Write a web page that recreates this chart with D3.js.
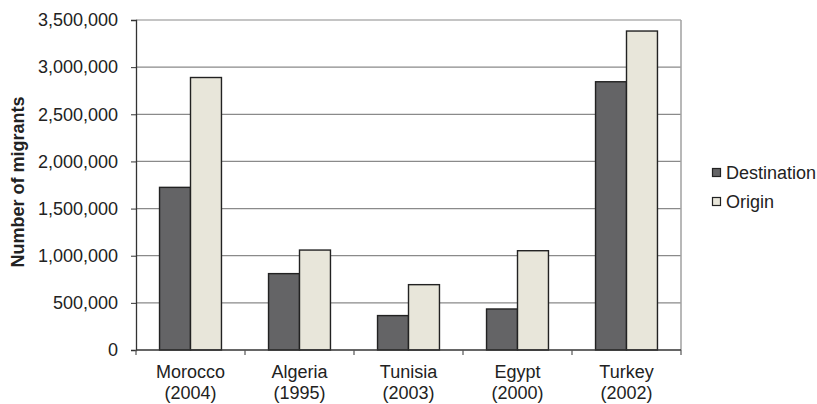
<!DOCTYPE html>
<html>
<head>
<meta charset="utf-8">
<script src="https://cdn.jsdelivr.net/npm/d3@7"></script>
<style>
  html, body { margin: 0; padding: 0; background: #fff; }
  svg { display: block; font-family: "Liberation Sans", Arial, sans-serif; }
</style>
</head>
<body>
<svg id="chart" width="817" height="404"></svg>
<script>
// Migrant stocks by country (survey year), as destination and as origin
const countries = ["Morocco", "Algeria", "Tunisia", "Egypt", "Turkey"];
const years = ["(2004)", "(1995)", "(2003)", "(2000)", "(2002)"];
const destination = [1725000, 810000, 365000, 435000, 2845000];
const origin = [2890000, 1060000, 693000, 1053000, 3383000];
const seriesNames = ["Destination", "Origin"];
const yTicks = [0, 500000, 1000000, 1500000, 2000000, 2500000, 3000000, 3500000];

const colors = { Destination: "#646466", Origin: "#e8e6da" };
const FONT = 18;

const svg = d3.select("#chart");
const margin = { left: 136, right: 136, top: 20, bottom: 54 };
const W = 817, H = 404;
const x0 = margin.left, x1 = W - margin.right;
const yTop = margin.top, yBottom = H - margin.bottom;

const x = d3.scaleBand().domain(countries).range([x0, x1]).paddingInner(0).paddingOuter(0);
const xs = d3.scaleBand().domain(seriesNames).range([0, x.bandwidth()]).paddingOuter(0.76).paddingInner(0);
const y = d3.scaleLinear().domain([0, 3500000]).range([yBottom, yTop]);

const data = countries.map((c, i) => ({ country: c, year: years[i], Destination: destination[i], Origin: origin[i] }));

// gridlines
svg.append("g")
  .selectAll("line")
  .data(yTicks.filter(t => t > 0))
  .join("line")
  .attr("x1", x0).attr("x2", x1)
  .attr("y1", d => y(d)).attr("y2", d => y(d))
  .attr("stroke", "#8a8a8a").attr("stroke-width", 1.2);

// right border
svg.append("line")
  .attr("x1", x1).attr("x2", x1).attr("y1", yTop).attr("y2", yBottom)
  .attr("stroke", "#a0a0a0").attr("stroke-width", 1.5);

// bars
const groups = svg.append("g").selectAll("g")
  .data(data).join("g")
  .attr("transform", d => `translate(${x(d.country)},0)`);

groups.selectAll("rect")
  .data(d => seriesNames.map(s => ({ key: s, value: d[s] })))
  .join("rect")
  .attr("x", d => xs(d.key))
  .attr("width", xs.bandwidth())
  .attr("y", d => y(d.value))
  .attr("height", d => y(0) - y(d.value))
  .attr("fill", d => colors[d.key])
  .attr("stroke", "#222")
  .attr("stroke-width", 1.4);

// y axis
const yAxis = d3.axisLeft(y).tickValues(yTicks).tickSize(5).tickPadding(13)
  .tickFormat(d3.format(","));
const gy = svg.append("g").attr("transform", `translate(${x0},0)`).call(yAxis);
gy.attr("font-size", FONT).attr("font-family", "Liberation Sans, Arial, sans-serif");
gy.select(".domain").attr("stroke", "#333").attr("stroke-width", 1.3);
gy.selectAll(".tick line").attr("stroke", "#333");
gy.selectAll(".tick text").attr("fill", "#222");

// x axis baseline and category separators
const gx = svg.append("g").attr("transform", `translate(0,${yBottom})`);
gx.append("line").attr("x1", x0).attr("x2", x1).attr("stroke", "#333").attr("stroke-width", 1.3);
gx.selectAll("line.sep")
  .data(countries.map(c => x(c)).concat([x1]))
  .join("line").attr("class", "sep")
  .attr("x1", d => d).attr("x2", d => d).attr("y1", 0).attr("y2", 5)
  .attr("stroke", "#555").attr("stroke-width", 1.2);

const labels = gx.selectAll("text.cat").data(data).join("text").attr("class", "cat")
  .attr("text-anchor", "middle").attr("font-size", FONT).attr("fill", "#222");
labels.append("tspan").attr("x", d => x(d.country) + x.bandwidth() / 2).attr("y", 28).text(d => d.country);
labels.append("tspan").attr("x", d => x(d.country) + x.bandwidth() / 2).attr("y", 49).text(d => d.year);

// y axis title
svg.append("text")
  .attr("transform", "translate(24,182) rotate(-90)")
  .attr("text-anchor", "middle")
  .attr("font-size", FONT).attr("font-weight", "bold").attr("fill", "#222")
  .text("Number of migrants");

// legend
const legend = svg.append("g").attr("transform", "translate(712,165)");
const li = legend.selectAll("g").data(seriesNames).join("g")
  .attr("transform", (d, i) => `translate(0,${i * 29})`);
li.append("rect").attr("x", 0.5).attr("y", 3.5).attr("width", 8).attr("height", 8)
  .attr("fill", d => colors[d]).attr("stroke", "#222").attr("stroke-width", 1.2);
li.append("text").attr("x", 14).attr("y", 14).attr("font-size", FONT).attr("fill", "#222").text(d => d);
</script>
</body>
</html>
